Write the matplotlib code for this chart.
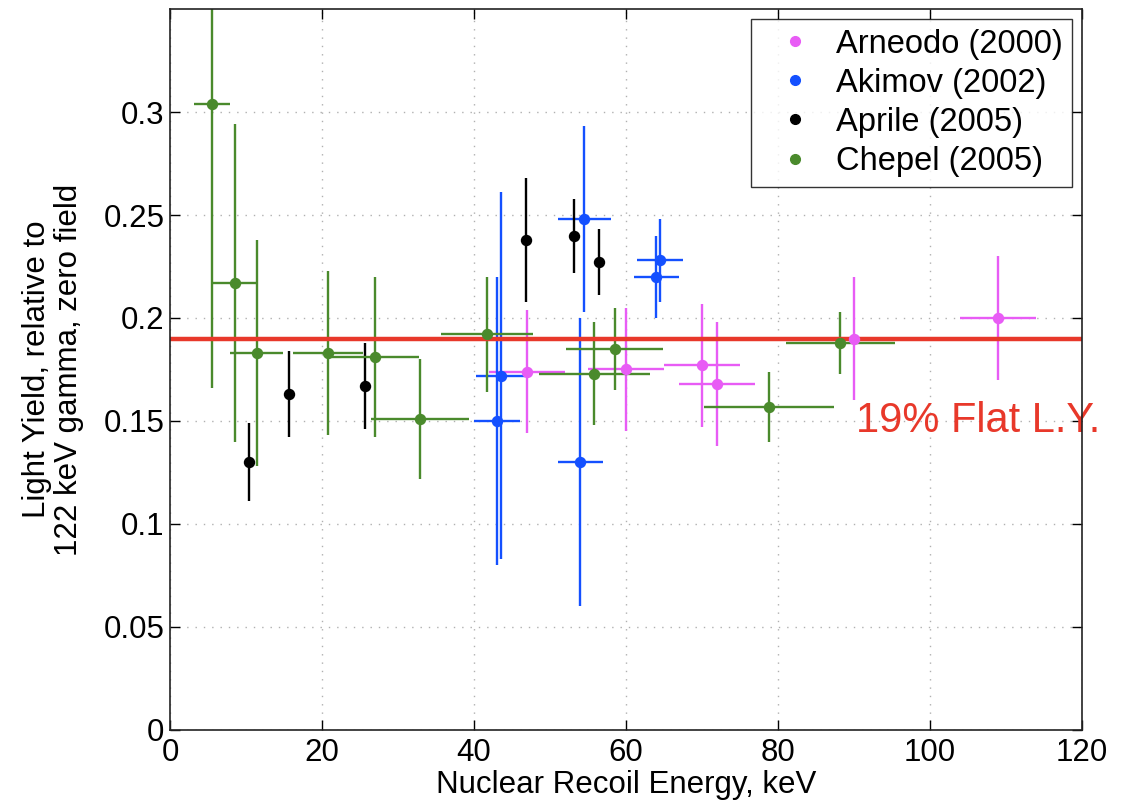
import matplotlib
matplotlib.use("Agg")
import matplotlib.pyplot as plt
from matplotlib.lines import Line2D

plt.rcParams['font.family'] = ['Liberation Sans', 'DejaVu Sans']

# Arneodo (2000)
arn_E = [47.0, 60.0, 70.0, 72.0, 90.0, 109.0]
arn_LY = [0.174, 0.175, 0.177, 0.168, 0.190, 0.200]
arn_dE = [5.0, 5.0, 5.0, 5.0, 5.0, 5.0]
arn_dLY = [0.030, 0.030, 0.030, 0.030, 0.030, 0.030]

# Akimov (2002)
aki_E = [43.5, 43.0, 54.5, 54.0, 64.5, 64.0]
aki_LY = [0.172, 0.150, 0.248, 0.130, 0.228, 0.220]
aki_dE = [3.2, 3.0, 3.5, 3.0, 3.0, 3.0]
aki_dLY = [0.089, 0.070, 0.045, 0.070, 0.020, 0.020]

# Aprile (2005), no energy error given
apr_E = [10.4, 15.7, 25.6, 46.8, 53.2, 56.5]
apr_LY = [0.130, 0.163, 0.167, 0.238, 0.240, 0.227]
apr_dLY = [0.019, 0.021, 0.021, 0.030, 0.018, 0.016]

# Chepel (2005)
che_E = [5.5, 8.5, 11.4, 20.8, 27.0, 32.9, 41.7, 55.8, 58.5, 78.8, 88.2]
che_LY = [0.304, 0.217, 0.183, 0.183, 0.181, 0.151, 0.192, 0.173, 0.185, 0.157, 0.188]
che_dE = [2.4, 2.8, 3.5, 4.6, 5.7, 6.4, 6.0, 7.3, 6.4, 8.5, 7.2]
che_dLY = [0.138, 0.077, 0.055, 0.040, 0.039, 0.029, 0.028, 0.025, 0.020, 0.017, 0.015]

flat_LY = 0.19

c_arn = '#E85CF5'
c_aki = '#1450FF'
c_apr = '#000000'
c_che = '#4A8A2C'
c_flat = '#E8382A'

fig = plt.figure(figsize=(11.26, 8.05), dpi=100)
ax = fig.add_axes([0.151, 0.0932, 0.810, 0.8956])

sets = [
    (arn_E, arn_LY, arn_dE, arn_dLY, c_arn, 'Arneodo (2000)'),
    (aki_E, aki_LY, aki_dE, aki_dLY, c_aki, 'Akimov (2002)'),
    (apr_E, apr_LY, None, apr_dLY, c_apr, 'Aprile (2005)'),
    (che_E, che_LY, che_dE, che_dLY, c_che, 'Chepel (2005)'),
]

# error bars first, flat line over them, dots on top
for E, LY, dE, dLY, col, lab in sets:
    ax.errorbar(E, LY, xerr=dE, yerr=dLY, fmt='none', ecolor=col,
                elinewidth=1.7, capsize=0, zorder=2)

ax.axhline(flat_LY, color=c_flat, lw=3.2, zorder=2.5)

handles = []
for E, LY, dE, dLY, col, lab in sets:
    ax.plot(E, LY, 'o', color=col, ms=7.2, zorder=3)
    handles.append(Line2D([], [], marker='o', ls='none', color=col, ms=7, label=lab))

ax.text(90.2, 0.150, '19% Flat L.Y.', color=c_flat, fontsize=30, va='center', ha='left',
        zorder=1)

ax.set_xlim(0, 120)
ax.set_ylim(0, 0.35)
ax.set_xticks([0, 20, 40, 60, 80, 100, 120])
ax.set_yticks([0, 0.05, 0.1, 0.15, 0.2, 0.25, 0.3])
ax.set_yticklabels(['0', '0.05', '0.1', '0.15', '0.2', '0.25', '0.3'])

ax.grid(True, color='#b0b0b0', linestyle=(0, (1, 5)), linewidth=1.0)
ax.set_axisbelow(True)
ax.tick_params(direction='in', length=7, width=1, top=True, right=True,
               labelsize=22.5, colors='black')
ax.tick_params(axis='x', pad=6)
ax.tick_params(axis='y', pad=4)
for s in ax.spines.values():
    s.set_linewidth(1.2)
    s.set_color('#222222')

ax.set_xlabel('Nuclear Recoil Energy, keV', fontsize=22.5, labelpad=1)
ax.set_ylabel('Light Yield, relative to\n122 keV gamma, zero field', fontsize=22.5,
              labelpad=14, linespacing=1.1)

leg = ax.legend(handles=handles, loc='upper right', fontsize=23.5, frameon=True,
                fancybox=False, borderaxespad=0.3, borderpad=0.3, labelspacing=0.25,
                handlelength=2.1, handletextpad=0.2)
leg.get_frame().set_edgecolor('black')
leg.get_frame().set_linewidth(1.0)

fig.savefig('out.png', dpi=100)
